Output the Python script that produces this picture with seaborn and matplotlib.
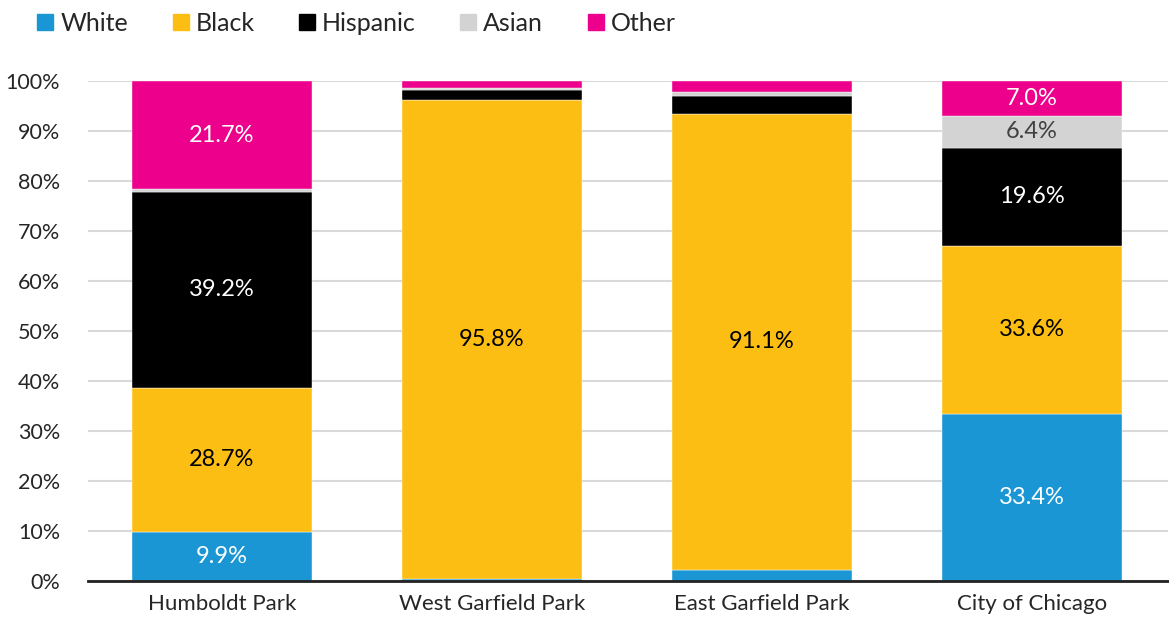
import matplotlib
matplotlib.use("Agg")
import matplotlib.pyplot as plt
import seaborn as sns
import numpy as np
from matplotlib.lines import Line2D

categories = ["Humboldt Park", "West Garfield Park", "East Garfield Park", "City of Chicago"]
races = ["White", "Black", "Hispanic", "Asian", "Other"]
white = [9.9, 0.4, 2.3, 33.4]
black = [28.7, 95.8, 91.1, 33.6]
hispanic = [39.2, 2.0, 3.6, 19.6]
asian = [0.5, 0.4, 0.8, 6.4]
other = [21.7, 1.4, 2.2, 7.0]
colors = ["#1a96d4", "#fdbe14", "#000000", "#d3d3d3", "#ec008c"]
label_colors = ["white", "black", "white", "#404040", "white"]

sns.set_theme(style="white")
plt.rcParams["font.family"] = ["Lato", "DejaVu Sans"]

fig = plt.figure(figsize=(11.69, 6.29), dpi=100)
ax = fig.add_axes([0.0753, 0.0763, 0.9237, 0.795])

series = [white, black, hispanic, asian, other]
bottom = np.zeros(len(categories))
for vals, col, lc in zip(series, colors, label_colors):
    sns.barplot(x=categories, y=vals, bottom=bottom, color=col, width=0.667,
                ax=ax, edgecolor="white", linewidth=0.3, saturation=1)
    cont = ax.containers[-1]
    labels = [f"{v:.1f}%" if v >= 5 else "" for v in vals]
    ax.bar_label(cont, labels=labels, label_type="center", color=lc, fontsize=17)
    bottom = bottom + np.array(vals)

ax.set_ylim(0, 100)
ax.set_xlim(-0.496, 3.504)
ax.set_yticks(np.arange(0, 101, 10))
ax.set_yticklabels([f"{t}%" for t in range(0, 101, 10)], fontsize=15.5)
ax.tick_params(axis="x", labelsize=16, length=0, pad=9)
ax.tick_params(axis="y", length=0, pad=20)
ax.yaxis.grid(True, color="#d9d9d9", linewidth=1.5)
ax.set_axisbelow(True)
for s in ["top", "right", "left"]:
    ax.spines[s].set_visible(False)
ax.spines["bottom"].set_color("#222222")
ax.spines["bottom"].set_linewidth(2)
ax.set_xlabel("")
ax.set_ylabel("")

handles = [Line2D([0], [0], marker="s", linestyle="", markersize=11,
                  markerfacecolor=c, markeredgecolor=c) for c in colors]
fig.legend(handles, races, loc="upper left", bbox_to_anchor=(0.012, 1.017), ncol=5,
           frameon=False, fontsize=18, handlelength=0.7, handletextpad=0.25,
           columnspacing=1.75)

fig.savefig("out.png", dpi=100)
